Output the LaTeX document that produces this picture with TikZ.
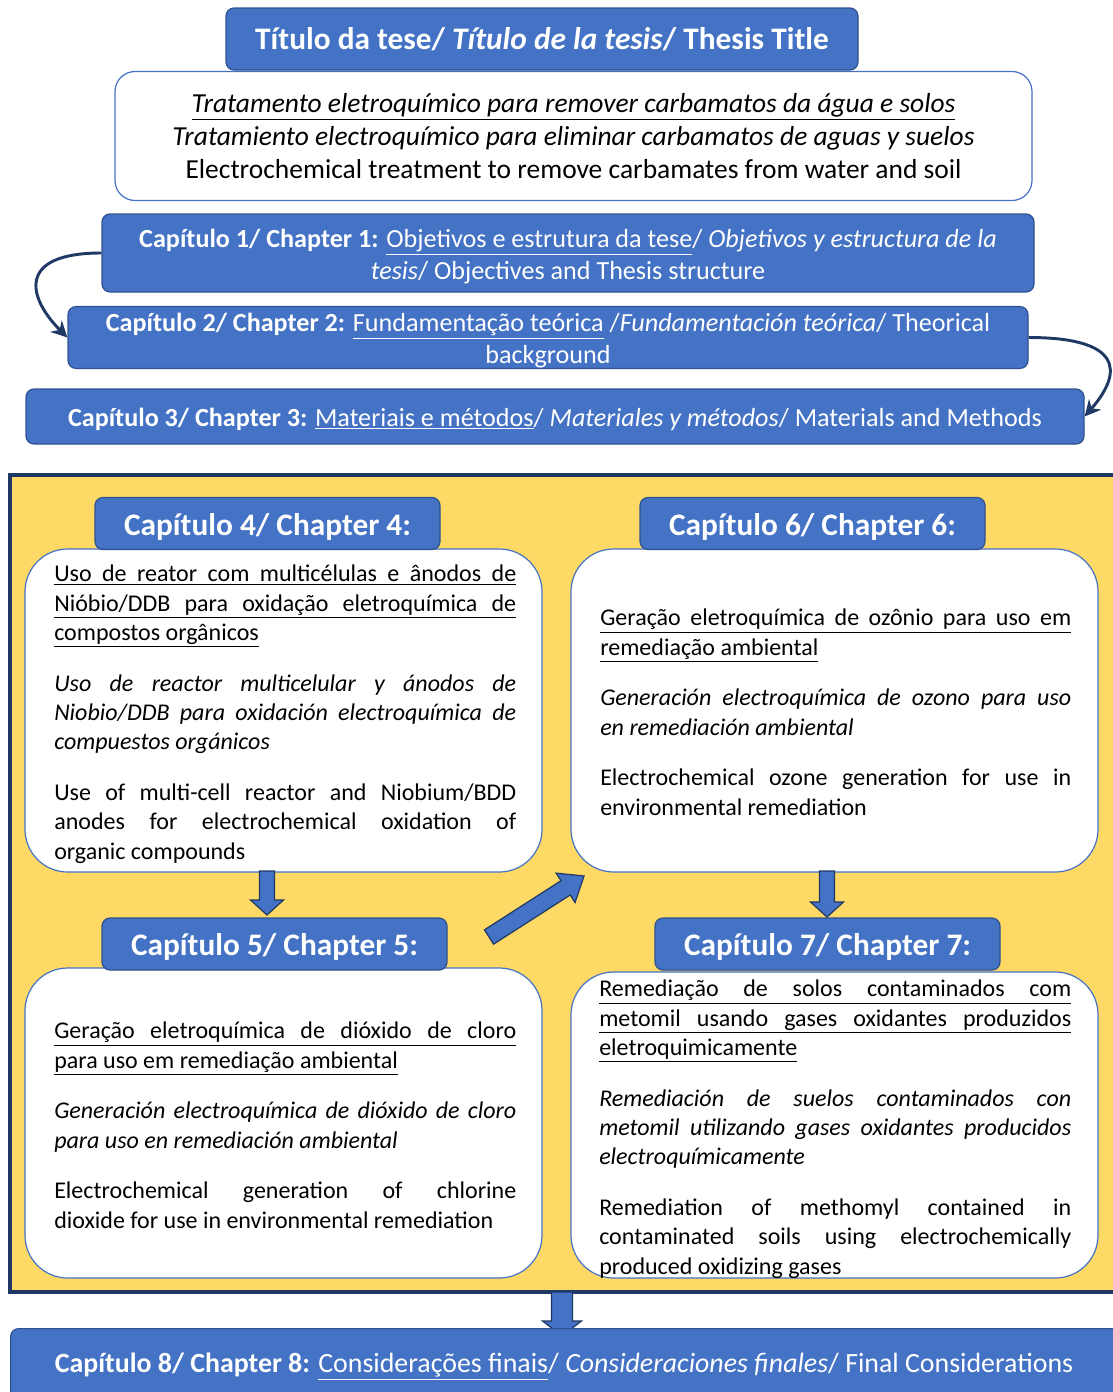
\documentclass[tikz,border=0pt]{standalone}
\usepackage{fontspec}
\setmainfont{Carlito}
\usetikzlibrary{arrows.meta}
\definecolor{boxblue}{HTML}{4472C4}
\definecolor{boxedge}{HTML}{2F528F}
\definecolor{navy}{HTML}{1F3864}
\definecolor{paneyellow}{HTML}{FFD966}
\newcommand{\pix}[1]{#1*0.75pt}
\newcommand{\topstrut}{\rule{0pt}{0.97em}}
\newcommand{\sinkby}[2]{\raisebox{-#1}[0pt][0pt]{#2}}
\newcommand{\ulfull}[1]{\underline{\makebox[\linewidth][s]{#1}}\par}
\newcommand{\blockarr}[5]{\draw[arrowbody,shift={(#1)},rotate=#2] (0,-#4) -- ({#3-#5},-#4) -- ({#3-#5},{-#4-9}) -- (#3,0) -- ({#3-#5},{#4+9}) -- ({#3-#5},#4) -- (0,#4) -- cycle;}

\begin{document}
\begin{tikzpicture}[x=0.75pt,y=-0.75pt,
  bluebox/.style={draw=boxedge,fill=boxblue,rounded corners=6pt,line width=0.9pt,text=white,inner sep=0pt},
  headbox/.style={bluebox,minimum width=\pix{345},minimum height=\pix{52},text height=1.28em,text depth=0.26em,
    font=\fontsize{23.5}{28}\selectfont\bfseries},
  chapbox/.style={bluebox,align=center,font=\fontsize{19.6}{24}\selectfont},
  panel/.style={draw=boxblue,fill=white,rounded corners=32pt,line width=0.9pt,inner sep=0pt},
  bodytext/.style={anchor=north west,inner sep=0pt,text width=\pix{462},align=justify,font=\fontsize{18}{22}\selectfont},
  arrowbody/.style={draw=navy,fill=boxblue,line width=0.9pt,line join=miter},
  curvearrow/.style={navy,line width=2.2pt,-{Stealth[length=12pt,width=12pt]}}
]
\useasboundingbox (0,0) rectangle (1113,1392);

% title
\node[draw=boxblue,fill=white,rounded corners=15pt,line width=0.9pt,minimum width=\pix{917},minimum height=\pix{129},
  align=center,inner sep=0pt,font=\fontsize{20.6}{24.75}\selectfont] (thesis) at (573.5,136)
  {\textit{\underline{Tratamento eletroquímico para remover carbamatos da água e solos}}\\
   \textit{Tratamiento electroquímico para eliminar carbamatos de aguas y suelos}\\
   Electrochemical treatment to remove carbamates from water and soil};
\node[bluebox,minimum width=\pix{632},minimum height=\pix{62},text height=1.22em,text depth=0.26em,
  font=\fontsize{23.5}{28}\selectfont\bfseries] (title) at (542,39)
  {\sinkby{3pt}{Título da tese/ \textit{Título de la tesis}/ Thesis Title}};

% chapters 1-3
\node[chapbox,minimum width=\pix{932},minimum height=\pix{78}] (c1) at (568,253)
  {\topstrut\textbf{Capítulo 1/ Chapter 1:} \underline{Objetivos e estrutura da tese}/ \textit{Objetivos y estructura de la}\\
   \textit{tesis}/ Objectives and Thesis structure};
\node[chapbox,minimum width=\pix{960},minimum height=\pix{61}] (c2) at (548,337.5)
  {\topstrut\textbf{Capítulo 2/ Chapter 2:} \underline{Fundamentação teórica} /\textit{Fundamentación teórica}/ Theorical\\
   background};
\node[chapbox,minimum width=\pix{1058},minimum height=\pix{55},text height=1.16em,text depth=0.26em] (c3) at (555,416.5)
  {\sinkby{3pt}{\textbf{Capítulo 3/ Chapter 3:} \underline{Materiais e métodos}/ \textit{Materiales y métodos}/ Materials and Methods}};

\draw[curvearrow] (c1.west) .. controls +(-85,0) and +(-40,-40) .. (c2.west);
\draw[curvearrow] (c2.east) .. controls +(92,0) and +(40,-46) .. (c3.east);

% yellow frame
\draw[draw=navy,fill=paneyellow,line width=3pt] (10,475) rectangle (1130,1292);

\node[panel,minimum width=\pix{517},minimum height=\pix{323}] (p4) at (283.5,710.5) {};
\node[panel,minimum width=\pix{527},minimum height=\pix{323}] (p6) at (834.5,710.5) {};
\node[panel,minimum width=\pix{517},minimum height=\pix{310}] (p5) at (283.5,1123) {};
\node[panel,minimum width=\pix{527},minimum height=\pix{306}] (p7) at (834.5,1125) {};

\node[headbox] (h4) at (267.5,523.5) {\sinkby{3.75pt}{Capítulo 4/ Chapter 4:}};
\node[headbox] (h6) at (812.5,523.5) {\sinkby{3.75pt}{Capítulo 6/ Chapter 6:}};
\node[headbox] (h5) at (274.5,944) {\sinkby{3.75pt}{Capítulo 5/ Chapter 5:}};
\node[headbox] (h7) at (827.5,944) {\sinkby{3.75pt}{Capítulo 7/ Chapter 7:}};

\node[bodytext] (t4) at (54,565) {%
  \ulfull{Uso de reator com multicélulas e ânodos de}
  \ulfull{Nióbio/DDB para oxidação eletroquímica de}
  \underline{compostos orgânicos}\par\vspace{16pt}
  \textit{Uso de reactor multicelular y ánodos de\linebreak
  Niobio/DDB para oxidación electroquímica de\linebreak
  compuestos orgánicos}\par\vspace{16pt}
  Use of multi-cell reactor and Niobium/BDD\linebreak
  anodes for electrochemical oxidation of\linebreak
  organic compounds};
\node[bodytext,text width=\pix{471}] (t6) at (600,609) {%
  \ulfull{Geração eletroquímica de ozônio para uso em}
  \underline{remediação ambiental}\par\vspace{16pt}
  \textit{Generación electroquímica de ozono para uso\linebreak
  en remediación ambiental}\par\vspace{16pt}
  Electrochemical ozone generation for use in\linebreak
  environmental remediation};
\node[bodytext] (t5) at (54,1022) {%
  \ulfull{Geração eletroquímica de dióxido de cloro}
  \underline{para uso em remediação ambiental}\par\vspace{16pt}
  \textit{Generación electroquímica de dióxido de cloro\linebreak
  para uso en remediación ambiental}\par\vspace{16pt}
  Electrochemical generation of chlorine\linebreak
  dioxide for use in environmental remediation};
\node[bodytext,text width=\pix{472}] (t7) at (599,980) {%
  \ulfull{Remediação de solos contaminados com}
  \ulfull{metomil usando gases oxidantes produzidos}
  \underline{eletroquimicamente}\par\vspace{16pt}
  \textit{Remediación de suelos contaminados con\linebreak
  metomil utilizando gases oxidantes producidos\linebreak
  electroquímicamente}\par\vspace{16pt}
  Remediation of methomyl contained in\linebreak
  contaminated soils using electrochemically\linebreak
  produced oxidizing gases};

% block arrows
\blockarr{267,871}{-90}{44}{7.5}{15}
\blockarr{827,871}{-90}{46}{7.5}{15}
\blockarr{489,937}{32.7}{113}{8.5}{22}
\blockarr{562,1292}{-90}{44}{10.5}{15}

% chapter 8
\node[bluebox,minimum width=\pix{1130},minimum height=\pix{90},anchor=north west] (c8) at (10,1328) {};
\node[text=white,font=\fontsize{20.9}{25}\selectfont,inner sep=0pt,text height=1.13em,text depth=0.26em] (c8text) at (564,1364)
  {\sinkby{2.25pt}{\textbf{Capítulo 8/ Chapter 8:} \underline{Considerações finais}/ \textit{Consideraciones finales}/ Final Considerations}};
\end{tikzpicture}
\end{document}
